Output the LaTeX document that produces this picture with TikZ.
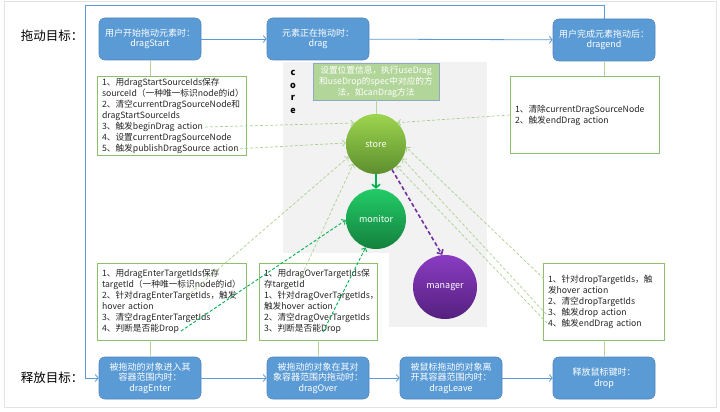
\documentclass[tikz,border=0pt]{standalone}
\usepackage{fontspec}
\setmainfont{Noto Sans CJK SC}
\usetikzlibrary{arrows.meta}
\definecolor{bfill}{HTML}{5B9BD5}
\definecolor{bedge}{HTML}{4F86BE}
\definecolor{gedge}{HTML}{8DBF6F}
\definecolor{glink}{HTML}{B3D49C}
\definecolor{lgdash}{HTML}{A9D18E}
\definecolor{dgdash}{HTML}{00B050}
\definecolor{purp}{HTML}{7030A0}
\definecolor{setfill}{HTML}{B2D69A}
\definecolor{setedge}{HTML}{8FA9BF}
\definecolor{corebg}{HTML}{F2F2F2}
\definecolor{txt}{HTML}{262626}
\definecolor{storetop}{HTML}{9CD54E}
\definecolor{storebot}{HTML}{5E8E2E}
\definecolor{montop}{HTML}{22CC66}
\definecolor{monbot}{HTML}{14803E}
\definecolor{mantop}{HTML}{8A3CC2}
\definecolor{manbot}{HTML}{55207F}
\begin{document}
\begin{tikzpicture}[x=1pt,y=-1pt,
  bluebox/.style={draw=bedge, fill=bfill, line width=0.6pt, rounded corners=6pt,
    minimum width=102pt, minimum height=42pt, text=white, align=center,
    font=\fontsize{9}{10.5}\selectfont, inner sep=1pt},
  notebox/.style={draw=gedge, fill=white, line width=0.8pt, text width=#1, align=left,
    inner xsep=5pt, inner ysep=2pt, font=\fontsize{8.7}{11}\selectfont,
    text=txt, minimum height=77pt},
  ball/.style={circle, minimum size=60pt, text=white, inner sep=0pt,
    font=\fontsize{9}{10}\selectfont},
  sidelabel/.style={font=\fontsize{12.5}{15}\selectfont, text=black},
  flowarrow/.style={draw=bfill, line width=0.8pt, -{Straight Barb[length=3pt,width=7pt]}},
  linkline/.style={draw=glink, line width=0.8pt},
  lgarrow/.style={draw=lgdash, line width=0.7pt, dash pattern=on 3pt off 2pt,
    -{Straight Barb[length=3pt,width=6pt]}},
  dgarrow/.style={draw=dgdash, line width=0.9pt, dash pattern=on 3pt off 2pt,
    -{Straight Barb[length=3pt,width=6pt]}},
  purarrow/.style={draw=purp, line width=1.6pt, dash pattern=on 4pt off 2.5pt,
    -{Straight Barb[length=3.5pt,width=7pt]}},
  solidgreen/.style={draw=dgdash, line width=1.6pt, -{Straight Barb[length=3.5pt,width=8pt]}}
]
\useasboundingbox (0,0) rectangle (720,412);
\draw[gray!22, line width=0.8pt] (4,1) rectangle (716,407);

% core background
\fill[corebg] (283,62) rectangle (487,327);
\fill[white] (283,253) rectangle (389,327);

% side labels
\node[sidelabel] (lblDrag) at (52,36) {拖动目标：};
\node[sidelabel] (lblDrop) at (52,378) {释放目标：};

% blue boxes
\node[bluebox] (dragStart) at (150,39) {用户开始拖动元素时：\\dragStart};
\node[bluebox] (drag) at (318,39) {元素正在拖动时：\\drag};
\node[bluebox] (dragend) at (604,40) {用户完成元素拖动后：\\dragend};
\node[bluebox] (dragEnter) at (150,378) {被拖动的对象进入其\\容器范围内时：\\dragEnter};
\node[bluebox] (dragOver) at (318,378) {被拖动的对象在其对\\象容器范围内拖动时：\\dragOver};
\node[bluebox] (dragLeave) at (451,378) {被鼠标拖动的对象离\\开其容器范围内时：\\dragLeave};
\node[bluebox] (drop) at (604,378) {释放鼠标键时：\\drop};

% note boxes
\node[notebox=139pt] (boxA) at (171.5,116) {1、用dragStartSourceIds保存\\sourceId（一种唯一标识node的id）\\2、清空currentDragSourceNode和\\dragStartSourceIds\\3、触发beginDrag action\\4、设置currentDragSourceNode\\5、触发publishDragSource action};
\node[notebox=139pt] (boxB) at (584.5,115) {1、清除currentDragSourceNode\\2、触发endDrag action};
\node[notebox=139pt] (boxC) at (171.5,301.5) {1、用dragEnterTargetIds保存\\targetId（一种唯一标识node的id）\\2、针对dragEnterTargetIds，触发\\hover action\\3、清空dragEnterTargetIds\\4、判断是否能Drop};
\node[notebox=108pt] (boxD) at (318,301.5) {1、用dragOverTargetIds保\\存targetId\\1、针对dragOverTargetIds，\\触发hover action\\2、清空dragOverTargetIds\\3、判断是否能Drop};
\node[notebox=111pt] (boxE) at (603.5,301.5) {1、针对dropTargetIds，触\\发hover action\\2、清空dropTargetIds\\3、触发drop action\\4、触发endDrag action};

% core content
\node[font=\bfseries\fontsize{9}{12.5}\selectfont, align=center, text=black] (coreLbl) at (293,92) {c\\o\\r\\e};
\node[draw=setedge, fill=setfill, line width=0.8pt, minimum width=126pt, minimum height=37pt,
  text=white, align=center, font=\fontsize{8.7}{11}\selectfont, inner sep=1pt] (setbox) at (376,81.5)
  {设置位置信息，执行useDrag\\和useDrop的spec中对应的方\\法，如canDrag方法};
\node[ball, top color=storetop, bottom color=storebot] (store) at (376,144) {store};
\node[ball, top color=montop, bottom color=monbot] (monitor) at (376,219) {monitor};
\node[ball, minimum size=64pt, top color=mantop, bottom color=manbot] (manager) at (445,287) {manager};

% flow arrows
\draw[flowarrow] (dragStart) -- (drag);
\draw[flowarrow] (drag) -- (dragend);
\draw[flowarrow] (dragEnter) -- (dragOver);
\draw[flowarrow] (dragOver) -- (dragLeave);
\draw[flowarrow] (dragLeave) -- (drop);
\coordinate (cornerTL) at (85,5);
\coordinate (cornerBL) at (85,378);
\draw[flowarrow] (dragend.north) |- (cornerTL) -- (cornerBL) -- (dragEnter.west);

% links blue -> note boxes
\draw[linkline] (dragStart.south) -- (dragStart.south |- boxA.north);
\draw[linkline] (dragend.south) -- (dragend.south |- boxB.north);
\draw[linkline] (dragEnter.north) -- (dragEnter.north |- boxC.south);
\draw[linkline] (dragOver.north) -- (dragOver.north |- boxD.south);
\draw[linkline] (drop.north) -- (drop.north |- boxE.south);
\draw[linkline] (setbox.south) -- (store.north);

% dashed arrows
\coordinate (aBegin) at (205,127);
\coordinate (aPublish) at (235,149);
\coordinate (cHover) at (187,296);
\coordinate (cDrop) at (181,331);
\coordinate (dTop) at (300,279);
\coordinate (dDrop) at (323,332);
\coordinate (eOne) at (544,279);
\coordinate (eThree) at (546,314);
\coordinate (eFour) at (547,323);
\draw[lgarrow] (aBegin) -- (store.136);
\draw[lgarrow] (aPublish) -- (store.178);
\draw[lgarrow] (boxB.west) -- (store.45);
\draw[lgarrow] (cHover) -- (store.205);
\draw[lgarrow] (dTop) -- (store.221);
\draw[lgarrow] (eOne) -- (store.354);
\draw[lgarrow] (eThree) -- (store.331);
\draw[lgarrow] (eFour) -- (store.313);
\draw[dgarrow] (cDrop) -- (monitor.182);
\draw[dgarrow] (dDrop) -- (monitor.250);
\draw[solidgreen] (store.south) -- (monitor.north);
\draw[purarrow] (store.302) -- (manager.95);
\end{tikzpicture}
\end{document}
